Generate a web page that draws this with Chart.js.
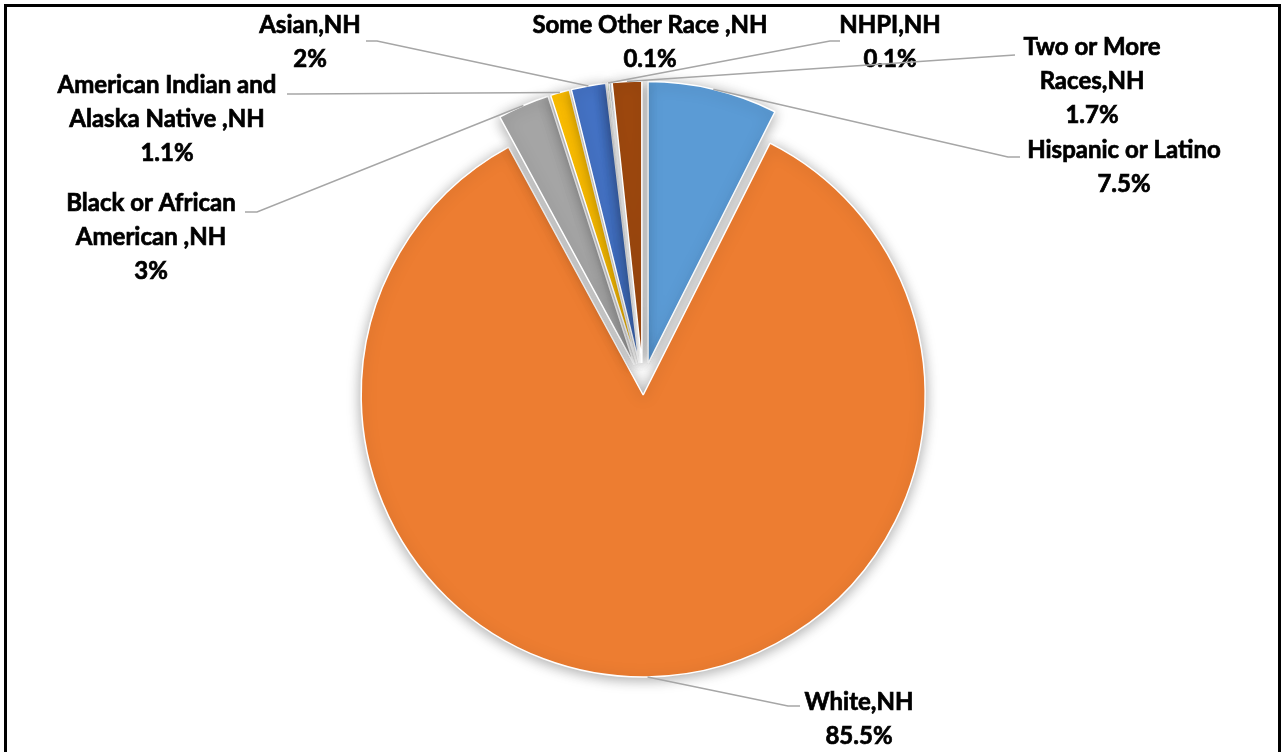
<!DOCTYPE html>
<html lang="en">
<head>
<meta charset="UTF-8">
<title>Race and Ethnicity</title>
<script src="https://cdn.jsdelivr.net/npm/chart.js"></script>
<style>
  html, body { margin: 0; padding: 0; background: #fff; overflow: hidden; }
  .frame { position: absolute; left: 4px; top: 4px; width: 1271px; height: 800px; border: 3px solid #000; }
  #pie { position: absolute; left: 0; top: 0; }
</style>
</head>
<body>
<div class="frame"></div>
<canvas id="pie" width="1282" height="752"></canvas>
<script>
  // slices, clockwise from 12 o'clock
  const categories = [
    ['Hispanic or Latino'],
    ['White,NH'],
    ['Black or African', 'American ,NH'],
    ['American Indian and', 'Alaska Native ,NH'],
    ['Asian,NH'],
    ['NHPI,NH'],
    ['Some Other Race ,NH'],
    ['Two or More', 'Races,NH']
  ];
  const percents = [7.5, 85.5, 3, 1.1, 2, 0.1, 0.1, 1.7];
  const colors = ['#5B9BD5', '#ED7D31', '#A5A5A5', '#FFC000', '#4472C4', '#70AD47', '#264478', '#9E480E'];

  // how far each slice is pulled out of the pie
  const explodeBy = [22, 10, 22, 22, 22, 22, 22, 22];

  // where each label sits (centre x, first line y) and where its leader line ends
  const labelSpots = [
    { x: 1124, y: 150, end: [1020, 157], elbow: [1008, 157] },
    { x: 859,  y: 702, end: [800, 706],  elbow: [788, 706] },
    { x: 151,  y: 203, end: [245, 212],  elbow: [257, 212] },
    { x: 167,  y: 85,  end: [287, 94],   elbow: [297, 94] },
    { x: 310,  y: 25,  end: [366, 41],   elbow: [377, 41] },
    { x: 890,  y: 25,  end: [840, 41],   elbow: [830, 41] },
    { x: 650,  y: 25,  end: null,        elbow: null },
    { x: 1092, y: 47,  end: [1015, 55],  elbow: [1000, 56] }
  ];
  const lineGap = 34;

  // draws each slice shifted along its bisector, with a soft shadow
  const explodePlugin = {
    id: 'explode',
    beforeDatasetDraw(chart, args) {
      const ctx = chart.ctx;
      ctx.save();
      ctx.shadowColor = 'rgba(0,0,0,0.35)';
      ctx.shadowBlur = 14;
      ctx.shadowOffsetY = 2;
      args.meta.data.forEach((arc, i) => {
        const mid = (arc.startAngle + arc.endAngle) / 2;
        ctx.save();
        ctx.translate(Math.cos(mid) * explodeBy[i], Math.sin(mid) * explodeBy[i]);
        arc.draw(ctx, chart.chartArea);
        ctx.restore();
      });
      ctx.restore();
      return false;
    }
  };

  const leaderLabels = {
    id: 'leaderLabels',
    afterDatasetsDraw(chart) {
      const ctx = chart.ctx;
      const arcs = chart.getDatasetMeta(0).data;
      ctx.save();
      arcs.forEach((arc, i) => {
        const spot = labelSpots[i];
        const mid = (arc.startAngle + arc.endAngle) / 2;
        const r = arc.outerRadius + explodeBy[i];
        const ax = arc.x + Math.cos(mid) * r;
        const ay = arc.y + Math.sin(mid) * r;
        if (spot.end) {
          ctx.strokeStyle = '#A6A6A6';
          ctx.lineWidth = 1.5;
          ctx.beginPath();
          ctx.moveTo(ax, ay);
          ctx.lineTo(spot.elbow[0], spot.elbow[1]);
          ctx.lineTo(spot.end[0], spot.end[1]);
          ctx.stroke();
        }
        const lines = categories[i].concat([percents[i] + '%']);
        ctx.fillStyle = '#000';
        ctx.strokeStyle = '#000';
        ctx.lineWidth = 0.7;
        ctx.font = 'bold 24px Lato';
        ctx.textAlign = 'center';
        ctx.textBaseline = 'middle';
        lines.forEach((t, k) => {
          ctx.fillText(t, spot.x, spot.y + k * lineGap);
          ctx.strokeText(t, spot.x, spot.y + k * lineGap);
        });
      });
      ctx.restore();
    }
  };

  new Chart(document.getElementById('pie'), {
    type: 'pie',
    data: {
      labels: categories.map(c => c.join(' ')),
      datasets: [{
        data: percents,
        backgroundColor: colors,
        borderColor: '#ffffff',
        borderWidth: 1.5
      }]
    },
    options: {
      responsive: false,
      animation: false,
      radius: 282,
      layout: { padding: { left: 4, right: 0, top: 18, bottom: 0 } },
      plugins: {
        legend: { display: false },
        tooltip: { enabled: false }
      }
    },
    plugins: [explodePlugin, leaderLabels]
  });
</script>
</body>
</html>
